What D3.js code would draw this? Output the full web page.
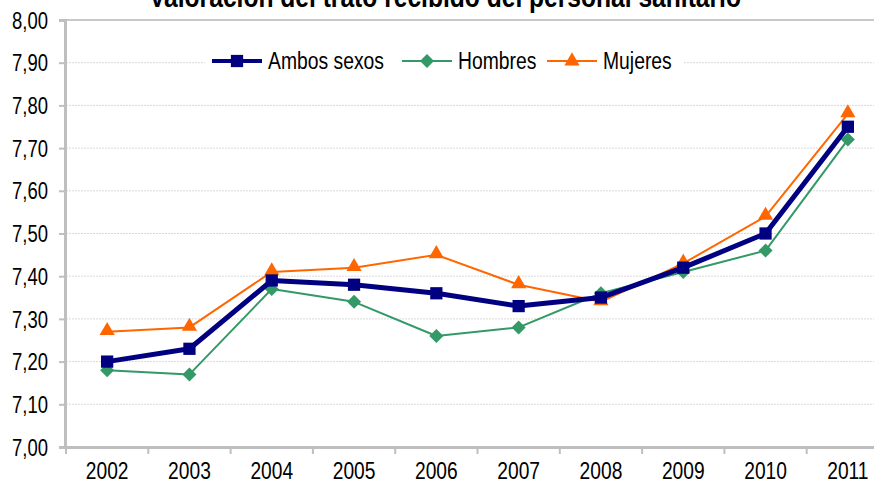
<!DOCTYPE html>
<html>
<head>
<meta charset="utf-8">
<script src="https://cdn.jsdelivr.net/npm/d3@7"></script>
<style>
  body { margin: 0; background: #fff; }
  svg { display: block; }
  text { font-family: "Liberation Sans", Arial, sans-serif; fill: #000; }
</style>
</head>
<body>
<svg id="chart" width="874" height="492"></svg>
<script>
const years = ['2002', '2003', '2004', '2005', '2006', '2007', '2008', '2009', '2010', '2011'];
const ambos = [7.20, 7.23, 7.39, 7.38, 7.36, 7.33, 7.35, 7.42, 7.50, 7.75];
const hombres = [7.18, 7.17, 7.37, 7.34, 7.26, 7.28, 7.36, 7.41, 7.46, 7.72];
const mujeres = [7.27, 7.28, 7.41, 7.42, 7.45, 7.38, 7.34, 7.43, 7.54, 7.78];
const yTicks = [7.0, 7.1, 7.2, 7.3, 7.4, 7.5, 7.6, 7.7, 7.8, 7.9, 8.0];
const title = 'Valoración del trato recibido del personal sanitario';

const series = [
  { name: 'Ambos sexos', values: ambos, color: '#000080', width: 5, marker: 'square' },
  { name: 'Hombres', values: hombres, color: '#339966', width: 2, marker: 'diamond' },
  { name: 'Mujeres', values: mujeres, color: '#FF6600', width: 2, marker: 'triangle' }
];

// the original uses a condensed font; squeeze the glyphs horizontally
const narrow = (sel, ratio) => {
  sel.each(function() {
    let w = this.getComputedTextLength();
    d3.select(this).attr('textLength', w * ratio).attr('lengthAdjust', 'spacingAndGlyphs');
  });
};

const svg = d3.select('#chart');

// plot area runs past the right edge, like the original
const x = d3.scaleBand().domain(years).range([66, 889]);
const y = d3.scaleLinear().domain([7, 8]).range([447, 20]);

// gridlines
svg.append('g')
  .selectAll('line')
  .data(yTicks.filter(d => d > 7))
  .enter().append('line')
    .attr('x1', 66).attr('x2', 889)
    .attr('y1', d => y(d)).attr('y2', d => y(d))
    .attr('stroke', d => d === 8 ? '#c8c8c8' : '#d9d9d9')
    .attr('stroke-width', d => d === 8 ? 2 : 1)
    .attr('stroke-dasharray', d => d === 8 ? null : '2,1');

// y axis
const yAxis = svg.append('g')
  .attr('transform', 'translate(65,0)')
  .call(d3.axisLeft(y).tickValues(yTicks).tickSize(6).tickPadding(11)
    .tickFormat(d => d3.format('.2f')(d).replace('.', ',')));
yAxis.select('.domain').attr('stroke', '#bfbfbf').attr('stroke-width', 3);
yAxis.selectAll('.tick line').attr('stroke', '#bfbfbf').attr('stroke-width', 2);
yAxis.selectAll('.tick text').attr('font-size', 24).attr('dy', '0.34em').call(narrow, 0.77);

// x axis
const xAxis = svg.append('g')
  .attr('transform', 'translate(0,447)')
  .call(d3.axisBottom(x).tickSize(0).tickPadding(15));
xAxis.select('.domain').attr('stroke', '#bfbfbf').attr('stroke-width', 3);
xAxis.selectAll('.tick text').attr('font-size', 24).call(narrow, 0.8);
svg.append('g')
  .selectAll('line')
  .data(years)
  .enter().append('line')
    .attr('x1', d => x(d)).attr('x2', d => x(d))
    .attr('y1', 447).attr('y2', 454)
    .attr('stroke', '#bfbfbf').attr('stroke-width', 2);

const symbolPath = (m) => {
  if (m === 'diamond') return 'M0,-7L7,0L0,7L-7,0Z';
  if (m === 'square') return d3.symbol().type(d3.symbolSquare).size(150)();
  return d3.symbol().type(d3.symbolTriangle).size(100)();
};

const line = d3.line()
  .x((d, i) => x(years[i]) + x.bandwidth() / 2)
  .y(d => y(d));

// draw in reverse so Ambos sits on top
series.slice().reverse().forEach(s => {
  svg.append('path')
    .datum(s.values)
    .attr('fill', 'none')
    .attr('stroke', s.color)
    .attr('stroke-width', s.width)
    .attr('stroke-linejoin', 'round')
    .attr('d', line);
  svg.append('g')
    .selectAll('path')
    .data(s.values)
    .enter().append('path')
      .attr('transform', (d, i) => `translate(${x(years[i]) + x.bandwidth() / 2},${y(d) + (s.marker === 'triangle' ? -1 : 0)})`)
      .attr('d', symbolPath(s.marker))
      .attr('fill', s.color);
});

// legend
const legendPos = [212, 402, 547];
svg.append('rect')
  .attr('x', 205).attr('y', 48).attr('width', 478).attr('height', 28)
  .attr('fill', '#fff');
series.forEach((s, i) => {
  let g = svg.append('g').attr('transform', `translate(${legendPos[i]},61)`);
  g.append('line')
    .attr('x1', 0).attr('x2', 50)
    .attr('stroke', s.color).attr('stroke-width', Math.min(s.width, 4));
  g.append('path')
    .attr('transform', 'translate(25,0)')
    .attr('d', symbolPath(s.marker))
    .attr('fill', s.color);
  g.append('text')
    .attr('x', 56).attr('y', 0).attr('dy', '0.35em')
    .attr('font-size', 23)
    .text(s.name)
    .call(narrow, 0.84);
});

// title, cut off at the top as in the original
svg.append('text')
  .attr('x', 445).attr('y', 7)
  .attr('text-anchor', 'middle')
  .attr('font-size', 30)
  .attr('font-weight', 'bold')
  .text(title)
  .call(narrow, 0.82);
</script>
</body>
</html>
